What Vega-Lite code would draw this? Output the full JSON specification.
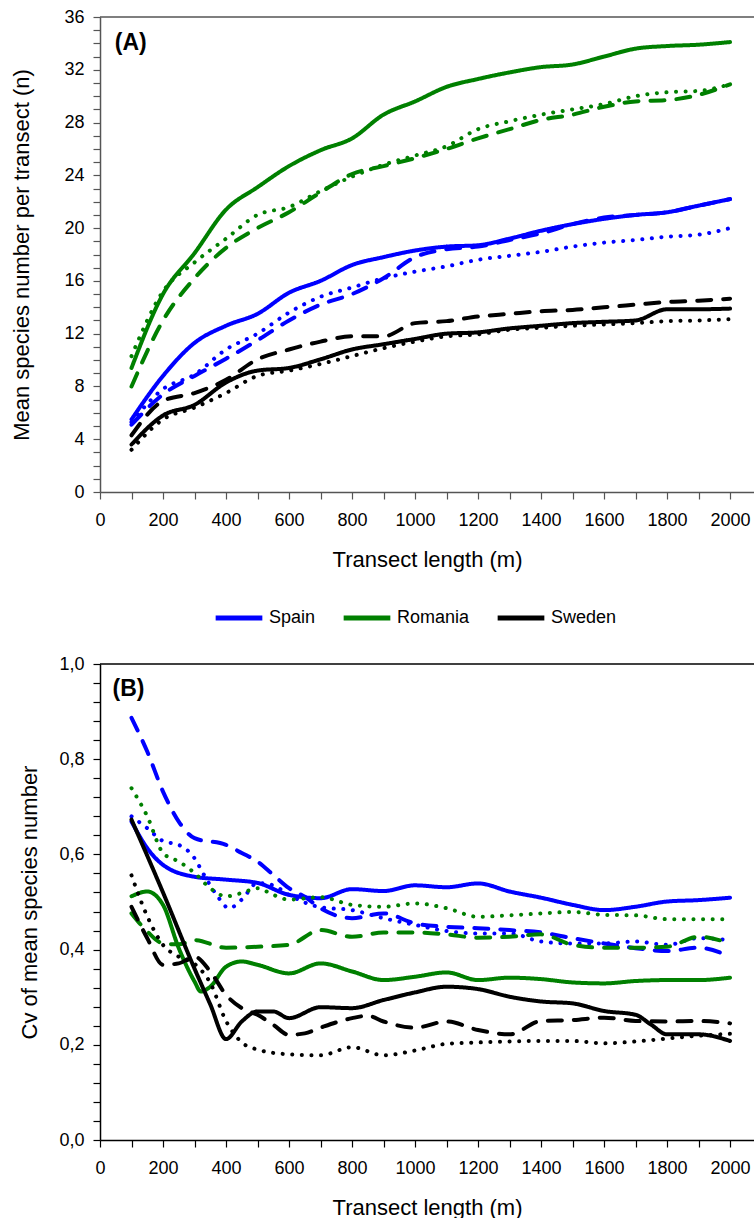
{
"$schema": "https://vega.github.io/schema/vega-lite/v6.json",
"padding": {"left": 10, "top": 8, "right": 0, "bottom": 0},
"config": {
 "font": "Liberation Sans",
 "view": {"stroke": null},
 "axis": {"grid": false, "labelFontSize": 18, "titleFontSize": 22, "titleFontWeight": "normal", "labelColor": "#000", "titleColor": "#000", "tickSize": 7, "tickCount": 100, "labelFlush": false, "labelOverlap": false, "domainWidth": 1.5, "tickWidth": 1.2},
 "line": {"strokeCap": "round", "strokeJoin": "round"}
},
"spacing": 21,
"resolve": {"legend": {"color": "independent"}},
"datasets": {"d": [
{"panel":"A","country":"Spain","style":"solid","x":100,"y":5.5},{"panel":"A","country":"Spain","style":"solid","x":200,"y":8.8},{"panel":"A","country":"Spain","style":"solid","x":300,"y":11.3},{"panel":"A","country":"Spain","style":"solid","x":400,"y":12.6},{"panel":"A","country":"Spain","style":"solid","x":500,"y":13.5},{"panel":"A","country":"Spain","style":"solid","x":600,"y":15.1},{"panel":"A","country":"Spain","style":"solid","x":700,"y":16.0},{"panel":"A","country":"Spain","style":"solid","x":800,"y":17.2},{"panel":"A","country":"Spain","style":"solid","x":900,"y":17.8},{"panel":"A","country":"Spain","style":"solid","x":1000,"y":18.3},{"panel":"A","country":"Spain","style":"solid","x":1100,"y":18.6},{"panel":"A","country":"Spain","style":"solid","x":1200,"y":18.7},{"panel":"A","country":"Spain","style":"solid","x":1300,"y":19.2},{"panel":"A","country":"Spain","style":"solid","x":1400,"y":19.8},{"panel":"A","country":"Spain","style":"solid","x":1500,"y":20.3},{"panel":"A","country":"Spain","style":"solid","x":1600,"y":20.7},{"panel":"A","country":"Spain","style":"solid","x":1700,"y":21.0},{"panel":"A","country":"Spain","style":"solid","x":1800,"y":21.2},{"panel":"A","country":"Spain","style":"solid","x":1900,"y":21.7},{"panel":"A","country":"Spain","style":"solid","x":2000,"y":22.2},
{"panel":"A","country":"Spain","style":"dashed","x":100,"y":5.1},{"panel":"A","country":"Spain","style":"dashed","x":200,"y":7.4},{"panel":"A","country":"Spain","style":"dashed","x":300,"y":8.8},{"panel":"A","country":"Spain","style":"dashed","x":400,"y":10.1},{"panel":"A","country":"Spain","style":"dashed","x":500,"y":11.5},{"panel":"A","country":"Spain","style":"dashed","x":600,"y":13.0},{"panel":"A","country":"Spain","style":"dashed","x":700,"y":14.2},{"panel":"A","country":"Spain","style":"dashed","x":800,"y":15.0},{"panel":"A","country":"Spain","style":"dashed","x":900,"y":16.2},{"panel":"A","country":"Spain","style":"dashed","x":1000,"y":17.8},{"panel":"A","country":"Spain","style":"dashed","x":1100,"y":18.4},{"panel":"A","country":"Spain","style":"dashed","x":1200,"y":18.6},{"panel":"A","country":"Spain","style":"dashed","x":1300,"y":19.1},{"panel":"A","country":"Spain","style":"dashed","x":1400,"y":19.6},{"panel":"A","country":"Spain","style":"dashed","x":1500,"y":20.3},{"panel":"A","country":"Spain","style":"dashed","x":1600,"y":20.8},{"panel":"A","country":"Spain","style":"dashed","x":1700,"y":21.0},{"panel":"A","country":"Spain","style":"dashed","x":1800,"y":21.2},{"panel":"A","country":"Spain","style":"dashed","x":1900,"y":21.7},{"panel":"A","country":"Spain","style":"dashed","x":2000,"y":22.2},
{"panel":"A","country":"Spain","style":"dotted","x":100,"y":5.3},{"panel":"A","country":"Spain","style":"dotted","x":200,"y":7.8},{"panel":"A","country":"Spain","style":"dotted","x":300,"y":8.9},{"panel":"A","country":"Spain","style":"dotted","x":400,"y":10.8},{"panel":"A","country":"Spain","style":"dotted","x":500,"y":12.0},{"panel":"A","country":"Spain","style":"dotted","x":600,"y":13.6},{"panel":"A","country":"Spain","style":"dotted","x":700,"y":14.8},{"panel":"A","country":"Spain","style":"dotted","x":800,"y":15.5},{"panel":"A","country":"Spain","style":"dotted","x":900,"y":16.2},{"panel":"A","country":"Spain","style":"dotted","x":1000,"y":16.7},{"panel":"A","country":"Spain","style":"dotted","x":1100,"y":17.1},{"panel":"A","country":"Spain","style":"dotted","x":1200,"y":17.6},{"panel":"A","country":"Spain","style":"dotted","x":1300,"y":17.9},{"panel":"A","country":"Spain","style":"dotted","x":1400,"y":18.2},{"panel":"A","country":"Spain","style":"dotted","x":1500,"y":18.6},{"panel":"A","country":"Spain","style":"dotted","x":1600,"y":18.9},{"panel":"A","country":"Spain","style":"dotted","x":1700,"y":19.1},{"panel":"A","country":"Spain","style":"dotted","x":1800,"y":19.35},{"panel":"A","country":"Spain","style":"dotted","x":1900,"y":19.5},{"panel":"A","country":"Spain","style":"dotted","x":2000,"y":20.0},
{"panel":"A","country":"Romania","style":"solid","x":100,"y":9.4},{"panel":"A","country":"Romania","style":"solid","x":200,"y":15.0},{"panel":"A","country":"Romania","style":"solid","x":300,"y":18.1},{"panel":"A","country":"Romania","style":"solid","x":400,"y":21.4},{"panel":"A","country":"Romania","style":"solid","x":500,"y":23.1},{"panel":"A","country":"Romania","style":"solid","x":600,"y":24.7},{"panel":"A","country":"Romania","style":"solid","x":700,"y":25.9},{"panel":"A","country":"Romania","style":"solid","x":800,"y":26.8},{"panel":"A","country":"Romania","style":"solid","x":900,"y":28.6},{"panel":"A","country":"Romania","style":"solid","x":1000,"y":29.6},{"panel":"A","country":"Romania","style":"solid","x":1100,"y":30.7},{"panel":"A","country":"Romania","style":"solid","x":1200,"y":31.3},{"panel":"A","country":"Romania","style":"solid","x":1300,"y":31.8},{"panel":"A","country":"Romania","style":"solid","x":1400,"y":32.2},{"panel":"A","country":"Romania","style":"solid","x":1500,"y":32.4},{"panel":"A","country":"Romania","style":"solid","x":1600,"y":33.0},{"panel":"A","country":"Romania","style":"solid","x":1700,"y":33.6},{"panel":"A","country":"Romania","style":"solid","x":1800,"y":33.8},{"panel":"A","country":"Romania","style":"solid","x":1900,"y":33.9},{"panel":"A","country":"Romania","style":"solid","x":2000,"y":34.1},
{"panel":"A","country":"Romania","style":"dashed","x":100,"y":8.0},{"panel":"A","country":"Romania","style":"dashed","x":200,"y":13.0},{"panel":"A","country":"Romania","style":"dashed","x":300,"y":16.2},{"panel":"A","country":"Romania","style":"dashed","x":400,"y":18.5},{"panel":"A","country":"Romania","style":"dashed","x":500,"y":20.0},{"panel":"A","country":"Romania","style":"dashed","x":600,"y":21.2},{"panel":"A","country":"Romania","style":"dashed","x":700,"y":22.7},{"panel":"A","country":"Romania","style":"dashed","x":800,"y":24.1},{"panel":"A","country":"Romania","style":"dashed","x":900,"y":24.7},{"panel":"A","country":"Romania","style":"dashed","x":1000,"y":25.3},{"panel":"A","country":"Romania","style":"dashed","x":1100,"y":26.0},{"panel":"A","country":"Romania","style":"dashed","x":1200,"y":26.8},{"panel":"A","country":"Romania","style":"dashed","x":1300,"y":27.5},{"panel":"A","country":"Romania","style":"dashed","x":1400,"y":28.2},{"panel":"A","country":"Romania","style":"dashed","x":1500,"y":28.6},{"panel":"A","country":"Romania","style":"dashed","x":1600,"y":29.2},{"panel":"A","country":"Romania","style":"dashed","x":1700,"y":29.6},{"panel":"A","country":"Romania","style":"dashed","x":1800,"y":29.7},{"panel":"A","country":"Romania","style":"dashed","x":1900,"y":30.1},{"panel":"A","country":"Romania","style":"dashed","x":2000,"y":30.9},
{"panel":"A","country":"Romania","style":"dotted","x":100,"y":10.3},{"panel":"A","country":"Romania","style":"dotted","x":200,"y":15.2},{"panel":"A","country":"Romania","style":"dotted","x":300,"y":17.4},{"panel":"A","country":"Romania","style":"dotted","x":400,"y":19.2},{"panel":"A","country":"Romania","style":"dotted","x":500,"y":21.0},{"panel":"A","country":"Romania","style":"dotted","x":600,"y":21.6},{"panel":"A","country":"Romania","style":"dotted","x":700,"y":22.8},{"panel":"A","country":"Romania","style":"dotted","x":800,"y":23.9},{"panel":"A","country":"Romania","style":"dotted","x":900,"y":24.8},{"panel":"A","country":"Romania","style":"dotted","x":1000,"y":25.5},{"panel":"A","country":"Romania","style":"dotted","x":1100,"y":26.2},{"panel":"A","country":"Romania","style":"dotted","x":1200,"y":27.5},{"panel":"A","country":"Romania","style":"dotted","x":1300,"y":28.1},{"panel":"A","country":"Romania","style":"dotted","x":1400,"y":28.6},{"panel":"A","country":"Romania","style":"dotted","x":1500,"y":29.0},{"panel":"A","country":"Romania","style":"dotted","x":1600,"y":29.4},{"panel":"A","country":"Romania","style":"dotted","x":1700,"y":30.0},{"panel":"A","country":"Romania","style":"dotted","x":1800,"y":30.3},{"panel":"A","country":"Romania","style":"dotted","x":1900,"y":30.4},{"panel":"A","country":"Romania","style":"dotted","x":2000,"y":30.9},
{"panel":"A","country":"Sweden","style":"solid","x":100,"y":3.6},{"panel":"A","country":"Sweden","style":"solid","x":200,"y":5.8},{"panel":"A","country":"Sweden","style":"solid","x":300,"y":6.6},{"panel":"A","country":"Sweden","style":"solid","x":400,"y":8.3},{"panel":"A","country":"Sweden","style":"solid","x":500,"y":9.2},{"panel":"A","country":"Sweden","style":"solid","x":600,"y":9.4},{"panel":"A","country":"Sweden","style":"solid","x":700,"y":10.05},{"panel":"A","country":"Sweden","style":"solid","x":800,"y":10.8},{"panel":"A","country":"Sweden","style":"solid","x":900,"y":11.2},{"panel":"A","country":"Sweden","style":"solid","x":1000,"y":11.6},{"panel":"A","country":"Sweden","style":"solid","x":1100,"y":12.0},{"panel":"A","country":"Sweden","style":"solid","x":1200,"y":12.1},{"panel":"A","country":"Sweden","style":"solid","x":1300,"y":12.4},{"panel":"A","country":"Sweden","style":"solid","x":1400,"y":12.6},{"panel":"A","country":"Sweden","style":"solid","x":1500,"y":12.8},{"panel":"A","country":"Sweden","style":"solid","x":1600,"y":12.9},{"panel":"A","country":"Sweden","style":"solid","x":1700,"y":13.0},{"panel":"A","country":"Sweden","style":"solid","x":1800,"y":13.85},{"panel":"A","country":"Sweden","style":"solid","x":1900,"y":13.85},{"panel":"A","country":"Sweden","style":"solid","x":2000,"y":13.9},
{"panel":"A","country":"Sweden","style":"dashed","x":100,"y":4.3},{"panel":"A","country":"Sweden","style":"dashed","x":200,"y":6.9},{"panel":"A","country":"Sweden","style":"dashed","x":300,"y":7.5},{"panel":"A","country":"Sweden","style":"dashed","x":400,"y":8.5},{"panel":"A","country":"Sweden","style":"dashed","x":500,"y":10.05},{"panel":"A","country":"Sweden","style":"dashed","x":600,"y":10.8},{"panel":"A","country":"Sweden","style":"dashed","x":700,"y":11.4},{"panel":"A","country":"Sweden","style":"dashed","x":800,"y":11.8},{"panel":"A","country":"Sweden","style":"dashed","x":900,"y":11.8},{"panel":"A","country":"Sweden","style":"dashed","x":1000,"y":12.8},{"panel":"A","country":"Sweden","style":"dashed","x":1100,"y":12.95},{"panel":"A","country":"Sweden","style":"dashed","x":1200,"y":13.3},{"panel":"A","country":"Sweden","style":"dashed","x":1300,"y":13.5},{"panel":"A","country":"Sweden","style":"dashed","x":1400,"y":13.7},{"panel":"A","country":"Sweden","style":"dashed","x":1500,"y":13.8},{"panel":"A","country":"Sweden","style":"dashed","x":1600,"y":14.0},{"panel":"A","country":"Sweden","style":"dashed","x":1700,"y":14.2},{"panel":"A","country":"Sweden","style":"dashed","x":1800,"y":14.4},{"panel":"A","country":"Sweden","style":"dashed","x":1900,"y":14.5},{"panel":"A","country":"Sweden","style":"dashed","x":2000,"y":14.65},
{"panel":"A","country":"Sweden","style":"dotted","x":100,"y":3.2},{"panel":"A","country":"Sweden","style":"dotted","x":200,"y":5.5},{"panel":"A","country":"Sweden","style":"dotted","x":300,"y":6.4},{"panel":"A","country":"Sweden","style":"dotted","x":400,"y":7.5},{"panel":"A","country":"Sweden","style":"dotted","x":500,"y":8.8},{"panel":"A","country":"Sweden","style":"dotted","x":600,"y":9.2},{"panel":"A","country":"Sweden","style":"dotted","x":700,"y":9.7},{"panel":"A","country":"Sweden","style":"dotted","x":800,"y":10.3},{"panel":"A","country":"Sweden","style":"dotted","x":900,"y":10.9},{"panel":"A","country":"Sweden","style":"dotted","x":1000,"y":11.4},{"panel":"A","country":"Sweden","style":"dotted","x":1100,"y":11.8},{"panel":"A","country":"Sweden","style":"dotted","x":1200,"y":11.95},{"panel":"A","country":"Sweden","style":"dotted","x":1300,"y":12.3},{"panel":"A","country":"Sweden","style":"dotted","x":1400,"y":12.45},{"panel":"A","country":"Sweden","style":"dotted","x":1500,"y":12.6},{"panel":"A","country":"Sweden","style":"dotted","x":1600,"y":12.7},{"panel":"A","country":"Sweden","style":"dotted","x":1700,"y":12.8},{"panel":"A","country":"Sweden","style":"dotted","x":1800,"y":12.95},{"panel":"A","country":"Sweden","style":"dotted","x":1900,"y":13.0},{"panel":"A","country":"Sweden","style":"dotted","x":2000,"y":13.1},
{"panel":"B","country":"Spain","style":"solid","x":100,"y":0.669},{"panel":"B","country":"Spain","style":"solid","x":150,"y":0.613},{"panel":"B","country":"Spain","style":"solid","x":200,"y":0.578},{"panel":"B","country":"Spain","style":"solid","x":300,"y":0.553},{"panel":"B","country":"Spain","style":"solid","x":400,"y":0.547},{"panel":"B","country":"Spain","style":"solid","x":500,"y":0.540},{"panel":"B","country":"Spain","style":"solid","x":600,"y":0.515},{"panel":"B","country":"Spain","style":"solid","x":700,"y":0.508},{"panel":"B","country":"Spain","style":"solid","x":800,"y":0.527},{"panel":"B","country":"Spain","style":"solid","x":900,"y":0.523},{"panel":"B","country":"Spain","style":"solid","x":1000,"y":0.535},{"panel":"B","country":"Spain","style":"solid","x":1100,"y":0.531},{"panel":"B","country":"Spain","style":"solid","x":1200,"y":0.539},{"panel":"B","country":"Spain","style":"solid","x":1300,"y":0.522},{"panel":"B","country":"Spain","style":"solid","x":1400,"y":0.509},{"panel":"B","country":"Spain","style":"solid","x":1500,"y":0.494},{"panel":"B","country":"Spain","style":"solid","x":1600,"y":0.483},{"panel":"B","country":"Spain","style":"solid","x":1700,"y":0.490},{"panel":"B","country":"Spain","style":"solid","x":1800,"y":0.501},{"panel":"B","country":"Spain","style":"solid","x":1900,"y":0.504},{"panel":"B","country":"Spain","style":"solid","x":2000,"y":0.509},
{"panel":"B","country":"Spain","style":"dashed","x":100,"y":0.887},{"panel":"B","country":"Spain","style":"dashed","x":150,"y":0.816},{"panel":"B","country":"Spain","style":"dashed","x":200,"y":0.732},{"panel":"B","country":"Spain","style":"dashed","x":250,"y":0.669},{"panel":"B","country":"Spain","style":"dashed","x":300,"y":0.634},{"panel":"B","country":"Spain","style":"dashed","x":400,"y":0.620},{"panel":"B","country":"Spain","style":"dashed","x":450,"y":0.603},{"panel":"B","country":"Spain","style":"dashed","x":500,"y":0.585},{"panel":"B","country":"Spain","style":"dashed","x":550,"y":0.557},{"panel":"B","country":"Spain","style":"dashed","x":600,"y":0.529},{"panel":"B","country":"Spain","style":"dashed","x":650,"y":0.511},{"panel":"B","country":"Spain","style":"dashed","x":700,"y":0.487},{"panel":"B","country":"Spain","style":"dashed","x":800,"y":0.466},{"panel":"B","country":"Spain","style":"dashed","x":900,"y":0.476},{"panel":"B","country":"Spain","style":"dashed","x":1000,"y":0.455},{"panel":"B","country":"Spain","style":"dashed","x":1100,"y":0.448},{"panel":"B","country":"Spain","style":"dashed","x":1200,"y":0.445},{"panel":"B","country":"Spain","style":"dashed","x":1300,"y":0.441},{"panel":"B","country":"Spain","style":"dashed","x":1400,"y":0.436},{"panel":"B","country":"Spain","style":"dashed","x":1500,"y":0.424},{"panel":"B","country":"Spain","style":"dashed","x":1600,"y":0.413},{"panel":"B","country":"Spain","style":"dashed","x":1700,"y":0.403},{"panel":"B","country":"Spain","style":"dashed","x":1800,"y":0.397},{"panel":"B","country":"Spain","style":"dashed","x":1900,"y":0.404},{"panel":"B","country":"Spain","style":"dashed","x":2000,"y":0.385},
{"panel":"B","country":"Spain","style":"dotted","x":100,"y":0.680},{"panel":"B","country":"Spain","style":"dotted","x":150,"y":0.655},{"panel":"B","country":"Spain","style":"dotted","x":200,"y":0.628},{"panel":"B","country":"Spain","style":"dotted","x":250,"y":0.620},{"panel":"B","country":"Spain","style":"dotted","x":300,"y":0.592},{"panel":"B","country":"Spain","style":"dotted","x":330,"y":0.557},{"panel":"B","country":"Spain","style":"dotted","x":370,"y":0.515},{"panel":"B","country":"Spain","style":"dotted","x":410,"y":0.487},{"panel":"B","country":"Spain","style":"dotted","x":450,"y":0.505},{"panel":"B","country":"Spain","style":"dotted","x":500,"y":0.540},{"panel":"B","country":"Spain","style":"dotted","x":550,"y":0.535},{"panel":"B","country":"Spain","style":"dotted","x":600,"y":0.515},{"panel":"B","country":"Spain","style":"dotted","x":700,"y":0.489},{"panel":"B","country":"Spain","style":"dotted","x":800,"y":0.483},{"panel":"B","country":"Spain","style":"dotted","x":900,"y":0.466},{"panel":"B","country":"Spain","style":"dotted","x":1000,"y":0.452},{"panel":"B","country":"Spain","style":"dotted","x":1100,"y":0.439},{"panel":"B","country":"Spain","style":"dotted","x":1200,"y":0.434},{"panel":"B","country":"Spain","style":"dotted","x":1300,"y":0.434},{"panel":"B","country":"Spain","style":"dotted","x":1400,"y":0.417},{"panel":"B","country":"Spain","style":"dotted","x":1500,"y":0.413},{"panel":"B","country":"Spain","style":"dotted","x":1600,"y":0.413},{"panel":"B","country":"Spain","style":"dotted","x":1700,"y":0.417},{"panel":"B","country":"Spain","style":"dotted","x":1800,"y":0.410},{"panel":"B","country":"Spain","style":"dotted","x":1900,"y":0.424},{"panel":"B","country":"Spain","style":"dotted","x":2000,"y":0.420},
{"panel":"B","country":"Romania","style":"solid","x":100,"y":0.512},{"panel":"B","country":"Romania","style":"solid","x":150,"y":0.522},{"panel":"B","country":"Romania","style":"solid","x":200,"y":0.494},{"panel":"B","country":"Romania","style":"solid","x":250,"y":0.403},{"panel":"B","country":"Romania","style":"solid","x":300,"y":0.333},{"panel":"B","country":"Romania","style":"solid","x":320,"y":0.312},{"panel":"B","country":"Romania","style":"solid","x":350,"y":0.322},{"panel":"B","country":"Romania","style":"solid","x":400,"y":0.364},{"panel":"B","country":"Romania","style":"solid","x":450,"y":0.375},{"panel":"B","country":"Romania","style":"solid","x":500,"y":0.368},{"panel":"B","country":"Romania","style":"solid","x":600,"y":0.350},{"panel":"B","country":"Romania","style":"solid","x":700,"y":0.371},{"panel":"B","country":"Romania","style":"solid","x":800,"y":0.354},{"panel":"B","country":"Romania","style":"solid","x":900,"y":0.336},{"panel":"B","country":"Romania","style":"solid","x":1000,"y":0.343},{"panel":"B","country":"Romania","style":"solid","x":1100,"y":0.352},{"panel":"B","country":"Romania","style":"solid","x":1200,"y":0.336},{"panel":"B","country":"Romania","style":"solid","x":1300,"y":0.341},{"panel":"B","country":"Romania","style":"solid","x":1400,"y":0.338},{"panel":"B","country":"Romania","style":"solid","x":1500,"y":0.331},{"panel":"B","country":"Romania","style":"solid","x":1600,"y":0.329},{"panel":"B","country":"Romania","style":"solid","x":1700,"y":0.334},{"panel":"B","country":"Romania","style":"solid","x":1800,"y":0.336},{"panel":"B","country":"Romania","style":"solid","x":1900,"y":0.336},{"panel":"B","country":"Romania","style":"solid","x":2000,"y":0.341},
{"panel":"B","country":"Romania","style":"dashed","x":100,"y":0.476},{"panel":"B","country":"Romania","style":"dashed","x":150,"y":0.438},{"panel":"B","country":"Romania","style":"dashed","x":200,"y":0.413},{"panel":"B","country":"Romania","style":"dashed","x":250,"y":0.411},{"panel":"B","country":"Romania","style":"dashed","x":300,"y":0.420},{"panel":"B","country":"Romania","style":"dashed","x":400,"y":0.404},{"panel":"B","country":"Romania","style":"dashed","x":500,"y":0.406},{"panel":"B","country":"Romania","style":"dashed","x":600,"y":0.410},{"panel":"B","country":"Romania","style":"dashed","x":700,"y":0.441},{"panel":"B","country":"Romania","style":"dashed","x":800,"y":0.427},{"panel":"B","country":"Romania","style":"dashed","x":900,"y":0.436},{"panel":"B","country":"Romania","style":"dashed","x":1000,"y":0.436},{"panel":"B","country":"Romania","style":"dashed","x":1100,"y":0.432},{"panel":"B","country":"Romania","style":"dashed","x":1200,"y":0.425},{"panel":"B","country":"Romania","style":"dashed","x":1300,"y":0.427},{"panel":"B","country":"Romania","style":"dashed","x":1400,"y":0.432},{"panel":"B","country":"Romania","style":"dashed","x":1500,"y":0.410},{"panel":"B","country":"Romania","style":"dashed","x":1600,"y":0.404},{"panel":"B","country":"Romania","style":"dashed","x":1700,"y":0.404},{"panel":"B","country":"Romania","style":"dashed","x":1800,"y":0.406},{"panel":"B","country":"Romania","style":"dashed","x":1900,"y":0.427},{"panel":"B","country":"Romania","style":"dashed","x":2000,"y":0.413},
{"panel":"B","country":"Romania","style":"dotted","x":100,"y":0.739},{"panel":"B","country":"Romania","style":"dotted","x":150,"y":0.680},{"panel":"B","country":"Romania","style":"dotted","x":200,"y":0.603},{"panel":"B","country":"Romania","style":"dotted","x":250,"y":0.585},{"panel":"B","country":"Romania","style":"dotted","x":300,"y":0.561},{"panel":"B","country":"Romania","style":"dotted","x":350,"y":0.529},{"panel":"B","country":"Romania","style":"dotted","x":400,"y":0.512},{"panel":"B","country":"Romania","style":"dotted","x":450,"y":0.519},{"panel":"B","country":"Romania","style":"dotted","x":500,"y":0.529},{"panel":"B","country":"Romania","style":"dotted","x":550,"y":0.515},{"panel":"B","country":"Romania","style":"dotted","x":600,"y":0.505},{"panel":"B","country":"Romania","style":"dotted","x":700,"y":0.510},{"panel":"B","country":"Romania","style":"dotted","x":800,"y":0.494},{"panel":"B","country":"Romania","style":"dotted","x":900,"y":0.490},{"panel":"B","country":"Romania","style":"dotted","x":1000,"y":0.497},{"panel":"B","country":"Romania","style":"dotted","x":1100,"y":0.487},{"panel":"B","country":"Romania","style":"dotted","x":1200,"y":0.469},{"panel":"B","country":"Romania","style":"dotted","x":1300,"y":0.472},{"panel":"B","country":"Romania","style":"dotted","x":1400,"y":0.476},{"panel":"B","country":"Romania","style":"dotted","x":1500,"y":0.479},{"panel":"B","country":"Romania","style":"dotted","x":1600,"y":0.473},{"panel":"B","country":"Romania","style":"dotted","x":1700,"y":0.472},{"panel":"B","country":"Romania","style":"dotted","x":1800,"y":0.464},{"panel":"B","country":"Romania","style":"dotted","x":1900,"y":0.464},{"panel":"B","country":"Romania","style":"dotted","x":2000,"y":0.464},
{"panel":"B","country":"Sweden","style":"solid","x":100,"y":0.673},{"panel":"B","country":"Sweden","style":"solid","x":200,"y":0.52},{"panel":"B","country":"Sweden","style":"solid","x":300,"y":0.36},{"panel":"B","country":"Sweden","style":"solid","x":350,"y":0.285},{"panel":"B","country":"Sweden","style":"solid","x":400,"y":0.212},{"panel":"B","country":"Sweden","style":"solid","x":450,"y":0.249},{"panel":"B","country":"Sweden","style":"solid","x":500,"y":0.270},{"panel":"B","country":"Sweden","style":"solid","x":550,"y":0.270},{"panel":"B","country":"Sweden","style":"solid","x":600,"y":0.256},{"panel":"B","country":"Sweden","style":"solid","x":700,"y":0.279},{"panel":"B","country":"Sweden","style":"solid","x":800,"y":0.277},{"panel":"B","country":"Sweden","style":"solid","x":900,"y":0.294},{"panel":"B","country":"Sweden","style":"solid","x":1000,"y":0.310},{"panel":"B","country":"Sweden","style":"solid","x":1100,"y":0.322},{"panel":"B","country":"Sweden","style":"solid","x":1200,"y":0.317},{"panel":"B","country":"Sweden","style":"solid","x":1300,"y":0.301},{"panel":"B","country":"Sweden","style":"solid","x":1400,"y":0.291},{"panel":"B","country":"Sweden","style":"solid","x":1500,"y":0.287},{"panel":"B","country":"Sweden","style":"solid","x":1600,"y":0.271},{"panel":"B","country":"Sweden","style":"solid","x":1700,"y":0.263},{"panel":"B","country":"Sweden","style":"solid","x":1750,"y":0.242},{"panel":"B","country":"Sweden","style":"solid","x":1800,"y":0.222},{"panel":"B","country":"Sweden","style":"solid","x":1900,"y":0.222},{"panel":"B","country":"Sweden","style":"solid","x":2000,"y":0.208},
{"panel":"B","country":"Sweden","style":"dashed","x":100,"y":0.490},{"panel":"B","country":"Sweden","style":"dashed","x":150,"y":0.424},{"panel":"B","country":"Sweden","style":"dashed","x":200,"y":0.368},{"panel":"B","country":"Sweden","style":"dashed","x":250,"y":0.371},{"panel":"B","country":"Sweden","style":"dashed","x":300,"y":0.385},{"panel":"B","country":"Sweden","style":"dashed","x":350,"y":0.354},{"panel":"B","country":"Sweden","style":"dashed","x":400,"y":0.305},{"panel":"B","country":"Sweden","style":"dashed","x":450,"y":0.277},{"panel":"B","country":"Sweden","style":"dashed","x":500,"y":0.263},{"panel":"B","country":"Sweden","style":"dashed","x":550,"y":0.242},{"panel":"B","country":"Sweden","style":"dashed","x":600,"y":0.221},{"panel":"B","country":"Sweden","style":"dashed","x":650,"y":0.224},{"panel":"B","country":"Sweden","style":"dashed","x":700,"y":0.236},{"panel":"B","country":"Sweden","style":"dashed","x":800,"y":0.256},{"panel":"B","country":"Sweden","style":"dashed","x":850,"y":0.261},{"panel":"B","country":"Sweden","style":"dashed","x":900,"y":0.249},{"panel":"B","country":"Sweden","style":"dashed","x":1000,"y":0.236},{"panel":"B","country":"Sweden","style":"dashed","x":1100,"y":0.249},{"panel":"B","country":"Sweden","style":"dashed","x":1200,"y":0.231},{"panel":"B","country":"Sweden","style":"dashed","x":1300,"y":0.222},{"panel":"B","country":"Sweden","style":"dashed","x":1400,"y":0.250},{"panel":"B","country":"Sweden","style":"dashed","x":1500,"y":0.252},{"panel":"B","country":"Sweden","style":"dashed","x":1600,"y":0.257},{"panel":"B","country":"Sweden","style":"dashed","x":1700,"y":0.250},{"panel":"B","country":"Sweden","style":"dashed","x":1800,"y":0.249},{"panel":"B","country":"Sweden","style":"dashed","x":1900,"y":0.250},{"panel":"B","country":"Sweden","style":"dashed","x":2000,"y":0.245},
{"panel":"B","country":"Sweden","style":"dotted","x":100,"y":0.556},{"panel":"B","country":"Sweden","style":"dotted","x":150,"y":0.47},{"panel":"B","country":"Sweden","style":"dotted","x":200,"y":0.41},{"panel":"B","country":"Sweden","style":"dotted","x":250,"y":0.385},{"panel":"B","country":"Sweden","style":"dotted","x":300,"y":0.37},{"panel":"B","country":"Sweden","style":"dotted","x":350,"y":0.33},{"panel":"B","country":"Sweden","style":"dotted","x":400,"y":0.25},{"panel":"B","country":"Sweden","style":"dotted","x":450,"y":0.205},{"panel":"B","country":"Sweden","style":"dotted","x":500,"y":0.19},{"panel":"B","country":"Sweden","style":"dotted","x":600,"y":0.18},{"panel":"B","country":"Sweden","style":"dotted","x":700,"y":0.178},{"panel":"B","country":"Sweden","style":"dotted","x":800,"y":0.195},{"panel":"B","country":"Sweden","style":"dotted","x":900,"y":0.178},{"panel":"B","country":"Sweden","style":"dotted","x":1000,"y":0.188},{"panel":"B","country":"Sweden","style":"dotted","x":1100,"y":0.202},{"panel":"B","country":"Sweden","style":"dotted","x":1200,"y":0.205},{"panel":"B","country":"Sweden","style":"dotted","x":1300,"y":0.207},{"panel":"B","country":"Sweden","style":"dotted","x":1400,"y":0.208},{"panel":"B","country":"Sweden","style":"dotted","x":1500,"y":0.208},{"panel":"B","country":"Sweden","style":"dotted","x":1600,"y":0.203},{"panel":"B","country":"Sweden","style":"dotted","x":1700,"y":0.207},{"panel":"B","country":"Sweden","style":"dotted","x":1800,"y":0.213},{"panel":"B","country":"Sweden","style":"dotted","x":1900,"y":0.219},{"panel":"B","country":"Sweden","style":"dotted","x":2000,"y":0.223}
]},
"vconcat": [
 {
  "width": 654, "height": 475,
  "layer": [
   {"data": {"values": [{}]}, "mark": {"type": "rule", "color": "#555", "strokeWidth": 1.5}, "encoding": {"y": {"datum": 36, "type": "quantitative"}}},
   {"data": {"name": "d"}, "transform": [{"filter": "datum.panel == 'A'"}],
    "mark": {"type": "line", "interpolate": "monotone"},
    "encoding": {
     "x": {"field": "x", "type": "quantitative", "scale": {"domain": [0, 2076], "nice": false},
       "axis": {"values": [0,100,200,300,400,500,600,700,800,900,1000,1100,1200,1300,1400,1500,1600,1700,1800,1900,2000], "format": "d", "labelExpr": "datum.value % 200 == 0 ? datum.label : ''", "title": "Transect length (m)", "labelPadding": 12.5, "titlePadding": 20, "domainColor": "#555", "tickColor": "#555"}},
     "y": {"field": "y", "type": "quantitative", "scale": {"domain": [0, 36], "nice": false},
       "axis": {"values": [0,1,2,3,4,5,6,7,8,9,10,11,12,13,14,15,16,17,18,19,20,21,22,23,24,25,26,27,28,29,30,31,32,33,34,35,36], "format": "d", "labelExpr": "datum.value % 4 == 0 ? datum.label : ''", "title": "Mean species number per transect (n)", "labelPadding": 9, "titlePadding": 30, "domainColor": "#555", "tickColor": "#555"}},
     "color": {"field": "country", "type": "nominal", "scale": {"domain": ["Spain", "Romania", "Sweden"], "range": ["#0000ff", "#008000", "#000000"]}, "legend": null},
     "strokeDash": {"field": "style", "type": "nominal", "scale": {"domain": ["solid", "dashed", "dotted"], "range": [[1, 0], [14, 12], [0.1, 9.5]]}, "legend": null},
     "strokeWidth": {"field": "style", "type": "nominal", "scale": {"domain": ["solid", "dashed", "dotted"], "range": [4, 4, 5]}, "legend": null}
    }},
   {"data": {"values": [{}]}, "mark": {"type": "text", "text": "(A)", "fontWeight": "bold", "fontSize": 23, "align": "left", "baseline": "alphabetic"},
    "encoding": {"x": {"datum": 47, "type": "quantitative"}, "y": {"datum": 33.5, "type": "quantitative"}}}
  ]
 },
 {
  "width": 654, "height": 476,
  "layer": [
   {"data": {"values": [{}]}, "mark": {"type": "rule", "color": "#000", "strokeWidth": 1.5}, "encoding": {"y": {"datum": 1, "type": "quantitative"}}},
   {"data": {"name": "d"}, "transform": [{"filter": "datum.panel == 'B'"}],
    "mark": {"type": "line", "interpolate": "monotone"},
    "encoding": {
     "x": {"field": "x", "type": "quantitative", "scale": {"domain": [0, 2076], "nice": false},
       "axis": {"values": [0,100,200,300,400,500,600,700,800,900,1000,1100,1200,1300,1400,1500,1600,1700,1800,1900,2000], "format": "d", "labelExpr": "datum.value % 200 == 0 ? datum.label : ''", "title": "Transect length (m)", "labelPadding": 12.5, "titlePadding": 20, "domainColor": "#000", "tickColor": "#000"}},
     "y": {"field": "y", "type": "quantitative", "scale": {"domain": [0, 1], "nice": false},
       "axis": {"values": [0,0.04,0.08,0.12,0.16,0.2,0.24,0.28,0.32,0.36,0.4,0.44,0.48,0.52,0.56,0.6,0.64,0.68,0.72,0.76,0.8,0.84,0.88,0.92,0.96,1], "labelExpr": "round(datum.value*100) % 20 == 0 ? replace(format(datum.value, '.1f'), '.', ',') : ''", "title": "Cv of mean species number", "labelPadding": 9, "titlePadding": 17, "domainColor": "#000", "tickColor": "#000"}},
     "color": {"field": "country", "type": "nominal", "scale": {"domain": ["Spain", "Romania", "Sweden"], "range": ["#0000ff", "#008000", "#000000"]},
       "legend": {"orient": "none", "legendX": 113, "legendY": -72, "direction": "horizontal", "title": null, "symbolType": "stroke", "symbolSize": 2180, "symbolStrokeWidth": 5, "labelFontSize": 18, "labelOffset": 4, "columnPadding": 25, "padding": 0, "labelLimit": 200}},
     "strokeDash": {"field": "style", "type": "nominal", "scale": {"domain": ["solid", "dashed", "dotted"], "range": [[1, 0], [16, 12], [0.1, 9.5]]}, "legend": null},
     "strokeWidth": {"field": "style", "type": "nominal", "scale": {"domain": ["solid", "dashed", "dotted"], "range": [3.3, 3.8, 5]}, "legend": null}
    }},
   {"data": {"values": [{}]}, "mark": {"type": "text", "text": "(B)", "fontWeight": "bold", "fontSize": 23, "align": "left", "baseline": "alphabetic"},
    "encoding": {"x": {"datum": 40, "type": "quantitative"}, "y": {"datum": 0.932, "type": "quantitative"}}}
  ]
 }
]
}
